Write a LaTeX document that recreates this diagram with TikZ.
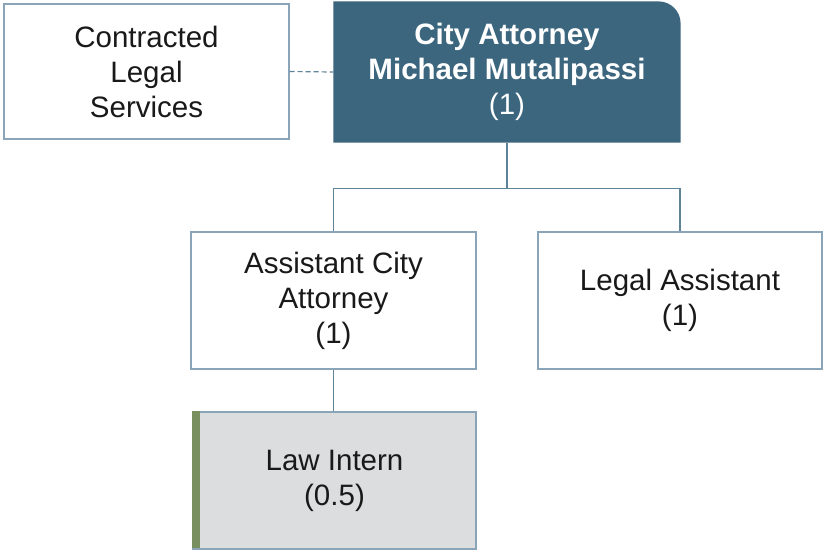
\documentclass[tikz,border=0pt]{standalone}
\usepackage{fontspec}
\setmainfont{Liberation Sans}
\usepackage{tikz}
\usetikzlibrary{calc,positioning,backgrounds}
\definecolor{ORGhead}{HTML}{3B667E}
\definecolor{ORGline}{HTML}{5F8399}
\definecolor{ORGedge}{HTML}{8AA5B7}
\definecolor{ORGgrey}{HTML}{DCDDDF}
\definecolor{ORGgreen}{HTML}{7A8F5F}

\begin{document}
\begin{tikzpicture}[x=1pt, y=-1pt,
            box/.style={rectangle, draw=ORGedge, line width=1.2pt, fill=white,
                        align=center, font=\fontsize{29.5}{35}\selectfont,
                        text=black!90, inner sep=0pt},
            link/.style={draw=ORGline, line width=1.2pt}]
        \useasboundingbox (0,0) rectangle (824,552);
        % top row
        \node[box, minimum width=285pt, minimum height=135pt] (legal) at (146.5,71.5)
            {Contracted\\Legal\\Services};
        \node[box, draw=none, fill=none, text=white, minimum width=346pt,
              minimum height=140pt] (chief) at (507,72)
            {\textbf{City Attorney}\\\textbf{Michael Mutalipassi}\\(1)};
        % staff
        \node[box, minimum width=285pt, minimum height=137pt] (aca) at (333.5,300.5)
            {Assistant City\\Attorney\\(1)};
        \node[box, minimum width=284pt, minimum height=137pt] (la) at (680,300.5)
            {Legal Assistant\\(1)};
        \node[box, fill=ORGgrey, minimum width=283pt, minimum height=137pt] (intern)
            at (334.5,480.5) {Law Intern\\(0.5)};
        \fill[ORGgreen] (intern.north west) rectangle ++(8,137);
        \begin{scope}[on background layer]
          \fill[ORGhead] (chief.south west) -- (chief.north west)
              [rounded corners=22pt] -- (chief.north east)
              [sharp corners] -- (chief.south east) -- cycle;
        \end{scope}
        % connectors
        \draw[link, dashed, dash pattern=on 5pt off 3pt] (legal.east) -- (chief.west);
        \coordinate (split) at ($(chief.south)+(0,46)$);
        \draw[link] (chief.south) -- (split) -| (aca.north);
        \draw[link] (split) -| (la.north);
        \draw[link] (aca.south) -- (aca.south |- intern.north);
      \end{tikzpicture}
\end{document}
